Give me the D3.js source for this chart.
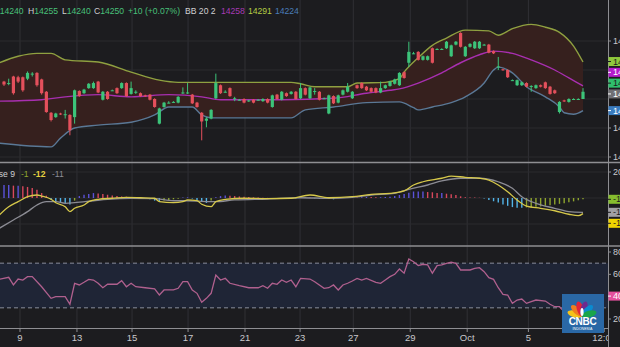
<!DOCTYPE html>
<html><head><meta charset="utf-8">
<script src="https://cdn.jsdelivr.net/npm/d3@7"></script>
<style>
html,body{margin:0;padding:0;background:#1c1c1f;overflow:hidden}
svg{display:block;font-family:"Liberation Sans",Arial,sans-serif}
</style></head><body>
<svg id="chart" width="620" height="347"></svg>
<script>
// ---- USD/IDR candles (index 0..123) ----
const opens  = [14264,14261,14271,14270,14270,14268,14274,14276,14267,14250,14221,14215,14220,14218,14218,14215,14251,14248,14255,14255,14264,14239,14250,14252,14255,14255,14262,14247,14249,14248,14245,14246,14240,14206,14229,14235,14236,14235,14248,14248,14246,14235,14221,14210,14213,14241,14259,14250,14255,14240,14239,14240,14238,14239,14239,14237,14240,14229,14246,14239,14248,14247,14250,14241,14255,14241,14250,14250,14241,14220,14244,14235,14246,14250,14241,14259,14262,14257,14255,14255,14249,14255,14258,14261,14259,14277,14290,14303,14305,14294,14294,14310,14309,14309,14310,14299,14315,14331,14299,14312,14310,14310,14315,14315,14306,14284,14281,14280,14266,14259,14259,14262,14257,14255,14259,14263,14257,14252,14222,14238,14236,14240,14240,14240];
const highs  = [14265,14268,14272,14272,14271,14278,14277,14277,14268,14251,14222,14221,14221,14225,14219,14253,14252,14254,14262,14264,14265,14251,14251,14253,14256,14263,14263,14264,14252,14249,14246,14247,14241,14228,14236,14237,14237,14244,14256,14262,14247,14236,14222,14215,14226,14275,14260,14252,14256,14243,14240,14241,14239,14240,14240,14241,14241,14246,14247,14251,14249,14251,14251,14262,14256,14257,14255,14251,14242,14246,14245,14246,14253,14262,14251,14260,14263,14258,14256,14256,14264,14260,14265,14268,14277,14278,14319,14305,14306,14300,14300,14311,14310,14310,14320,14315,14320,14332,14313,14317,14320,14320,14316,14316,14307,14298,14282,14281,14267,14267,14264,14263,14259,14260,14260,14264,14258,14253,14237,14239,14241,14241,14241,14255];
const lows   = [14258,14259,14246,14262,14250,14266,14271,14257,14246,14221,14209,14214,14218,14213,14190,14206,14243,14247,14254,14254,14248,14238,14239,14251,14247,14254,14243,14246,14247,14243,14243,14238,14228,14205,14228,14234,14235,14234,14247,14247,14233,14228,14183,14201,14212,14240,14247,14249,14243,14237,14238,14234,14236,14234,14238,14236,14234,14228,14239,14238,14243,14246,14239,14240,14245,14240,14246,14238,14240,14219,14233,14234,14245,14249,14240,14254,14254,14251,14249,14248,14248,14254,14257,14260,14258,14268,14284,14302,14293,14293,14293,14289,14308,14308,14309,14298,14314,14311,14298,14311,14309,14309,14314,14303,14302,14280,14279,14269,14265,14258,14258,14256,14250,14254,14256,14254,14246,14247,14220,14236,14235,14239,14239,14240];
const closes = [14260,14262,14248,14264,14252,14276,14275,14259,14248,14222,14211,14220,14219,14219,14197,14252,14244,14253,14261,14262,14249,14250,14240,14252,14248,14262,14244,14255,14250,14244,14244,14239,14229,14227,14235,14235,14236,14243,14249,14249,14234,14229,14209,14213,14225,14262,14248,14250,14244,14241,14239,14235,14238,14235,14239,14240,14235,14245,14240,14250,14244,14250,14240,14255,14246,14256,14251,14239,14241,14245,14234,14245,14252,14257,14250,14255,14255,14252,14250,14249,14255,14259,14264,14267,14276,14269,14305,14303,14294,14299,14299,14290,14309,14309,14319,14314,14319,14312,14312,14316,14319,14319,14315,14304,14303,14285,14280,14270,14266,14266,14263,14257,14258,14259,14257,14255,14247,14248,14236,14237,14240,14240,14240,14250];

// ---- Bollinger Bands (20, 2) ----
const bbUpperIdx = [-1,3,7,10,13,20,27,33,37,46,61,63,66,73,75,81,84,85,88,91,94,98,103,105,108,112,115,118,121,123];
const bbUpper    = [14290,14299,14303,14303,14294,14291,14277,14266,14263,14263,14263,14261,14257,14257,14262,14263,14268,14277,14297,14314,14324,14335,14334,14328,14337,14343,14339,14332,14313,14291];
const bbMiddleIdx = [-1,8,13,20,27,35,42,46,59,70,77,82,84,88,93,97,101,104,108,112,117,120,123];
const bbMiddle    = [14237,14239,14243,14246,14243,14246,14243,14239,14239,14241,14248,14252,14254,14262,14276,14290,14301,14306,14303,14294,14280,14269,14258];
const bbLowerIdx = [-1,10,12,15,20,27,32,35,40,42,44,61,64,70,77,84,87,88,91,95,98,102,104,105,108,111,115,118,119,121,123];
const bbLower    = [14179,14174,14186,14200,14204,14208,14218,14229,14229,14218,14214,14214,14225,14229,14235,14236,14228,14225,14229,14235,14243,14262,14280,14284,14276,14257,14243,14229,14221,14219,14224];

// ---- MACD (12, 26, close, 9) ----
const macdIdx  = [-1,1,3,5,7,8,10,11,13,14,15,17,18,20,23,26,29,32,33,36,38,39,41,42,44,45,47,51,56,61,65,69,74,78,82,85,87,89,93,95,98,101,103,105,107,109,111,114,117,120,122,123];
const macdLine = [-13.1,-6.7,-2.8,1.0,2.3,1.5,-1.0,-3.6,-6.7,-10.5,-7.9,-5.4,-2.8,-1.0,-0.2,0.5,0.2,-0.2,-2.8,-3.6,-2.8,-1.5,-2.1,-4.8,-6.7,-2.8,-1.0,-0.2,-0.5,-0.2,2.3,0.2,1.0,2.8,3.6,5.4,10.0,12.5,15.2,16.9,15.9,15.2,13.8,10.0,4.8,-1.5,-6.2,-7.9,-9.8,-12.5,-13.6,-12];
const signalIdx  = [-1,2,5,7,9,11,13,15,19,22,27,32,36,39,43,45,49,56,63,69,74,78,83,86,90,93,97,101,105,108,110,113,117,120,123];
const signalLine = [-23.3,-16.9,-10.5,-5.4,-2.8,-2.8,-4.1,-3.6,-2.1,-1.0,-0.2,-0.5,-2.1,-2.1,-2.8,-2.8,-1.5,-0.8,0.2,-0.2,0.5,2.3,3.6,6.7,10.0,13.1,15.2,15.2,12.5,7.5,1.0,-4.1,-7.9,-10.5,-11];
const histogram = [10,10,9.5,9.5,9,8.5,7.7,6.4,3.8,1.8,
  -1.5,-3,-3.5,-4,-5,-2,1.5,2.5,3,3.8,3.5,
  3,2.5,2,1.5,1.2,1,0.8,0.6,0.3,
  -0.3,-1,-2,-2.5,-2,-1.5,-1,-0.5,0.3,0.5,
  -0.3,-1.5,-3,-3.8,-2,0.5,1.5,2,
  1.8,1.5,1.2,1,0.7,0.5,0.3,
  0.2,0.1,-0.2,-0.4,-0.6,-0.5,-0.4,-0.3,0.3,0.6,
  0.4,-0.3,-0.6,-0.8,-0.5,-1,
  0.3,0.5,0.6,0.5,0.4,0.6,0.8,0.7,0.5,0.6,0.8,1,
  1.5,2.3,3,4,5,
  5,5,4.6,4.4,3.8,3.8,3.3,2.8,2.3,1.3,
  0.6,0.4,0.3,0.2,-0.4,
  -1.5,-2.5,-3.5,-5,-6,-7,-7.5,
  -7.5,-7.2,-7,-6.8,-6.5,-6,-5.5,-5,-4.5,-4,-3.3,-2.6,-1.8,-1];

// ---- RSI (14) ----
const rsiIdx = [-1,1,2,3,4,5,6,8,10,11,13,14,15,16,17,18,19,20,21,22,24,25,26,27,28,30,32,33,34,36,37,38,39,40,41,42,43,44,45,46,47,48,50,52,54,55,56,57,58,59,60,61,62,63,65,66,68,69,70,71,72,73,74,75,76,77,79,80,81,82,83,84,85,86,87,88,89,90,91,92,93,94,95,96,97,99,100,101,102,103,104,105,106,107,108,109,110,111,112,113,115,116,117,118,119,120,121,122,123];
const rsiVals = [55.5,57.3,50.5,55.8,54.9,57.9,57.9,48.9,38.5,40,40,33.2,52,50.5,52.9,55.5,54.9,52,48,51.1,51.1,54.3,48.9,52,48.9,48,46.9,41.5,46,46,47.5,53.4,53.4,46,43,35,38.5,43,59.4,54.9,56.4,52,49.8,48,48,49.8,47.5,52,51.1,55,52.9,54.9,48.9,56.4,55.8,53.4,47.5,48,50.5,46,50.5,52,54,56.4,54.9,56.4,52.9,52,54.9,57.9,60,64.8,61,73.7,71.3,67.8,69,68.4,61,67.8,68.4,69.9,70.8,69.9,63.9,63.9,65.4,66,62.4,57,55.5,48,42.1,41.5,34,37,37.9,34,35.5,37,36.1,33.2,31,31,26.6,30,31,33,40.5];

// ---- axes ----
const dateTickIdx = [3.4,15.5,27.2,39.1,51.2,62.9,74.2,86.3,98.4,111.4,127.5];
const dateTickLabels = ["9","13","15","17","21","23","27","29","Oct","5","12:00"];
const priceTicks = [14160,14200,14240,14280,14320];
const macdTicks = [-20,0,20];
const rsiTicks = [20,40,60,80];
const rsiBounds = [30,70];

// ---- layout ----
const W = 620, H = 347, axisX = 608;
const svg = d3.select("#chart");
svg.append("rect").attr("width", W).attr("height", H).attr("fill", "#1c1c1f");

const x = d3.scaleLinear().domain([0, 123]).range([4, 583]);
const yPrice = d3.scaleLinear().domain([14160, 14320]).range([157, 41]);
const yMacd = d3.scaleLinear().domain([-20, 20]).range([224, 172]);
const yRsi = d3.scaleLinear().domain([20, 80]).range([319, 252]);

const defs = svg.append("defs");
function clip(id, y0, y1) {
  defs.append("clipPath").attr("id", id).append("rect")
    .attr("x", 0).attr("y", y0).attr("width", axisX).attr("height", y1 - y0);
  return "url(#" + id + ")";
}
const clipPrice = clip("cp", 0, 162), clipMacd = clip("cm", 163, 245), clipRsi = clip("cr", 247, 328), clipAxis = clip("ca", 328, 347);

// vertical grid through all panes
svg.append("g").selectAll("line").data(dateTickIdx.slice(0, -1)).join("line")
  .attr("x1", d => x(d)).attr("x2", d => x(d)).attr("y1", 0).attr("y2", 328)
  .attr("stroke", "#303035").attr("stroke-width", 1);

// horizontal grid
const hgrid = svg.append("g").attr("stroke", "#2a2a2f").attr("stroke-width", 1);
priceTicks.forEach(t => hgrid.append("line").attr("x1", 0).attr("x2", axisX).attr("y1", yPrice(t)).attr("y2", yPrice(t)));
macdTicks.forEach(t => hgrid.append("line").attr("x1", 0).attr("x2", axisX).attr("y1", yMacd(t)).attr("y2", yMacd(t)));

// ---- price pane ----
const pricePane = svg.append("g").attr("clip-path", clipPrice);
const pts = (idx, vals, ys) => idx.map((d, k) => [x(d), ys(vals[k])]);
const upperPts = pts(bbUpperIdx, bbUpper, yPrice);
const middlePts = pts(bbMiddleIdx, bbMiddle, yPrice);
const lowerPts = pts(bbLowerIdx, bbLower, yPrice);
const smooth = d3.line().curve(d3.curveMonotoneX);
const fillPath = smooth(upperPts) + "L" + smooth(lowerPts.slice().reverse()).slice(1) + "Z";
pricePane.append("path").attr("d", fillPath).attr("fill", "#36201e");
pricePane.append("path").attr("d", smooth(upperPts)).attr("fill", "none").attr("stroke", "#8fa040").attr("stroke-width", 1.4);
pricePane.append("path").attr("d", smooth(middlePts)).attr("fill", "none").attr("stroke", "#a82fb0").attr("stroke-width", 1.4);
pricePane.append("path").attr("d", smooth(lowerPts)).attr("fill", "none").attr("stroke", "#5a7896").attr("stroke-width", 1.4);

const UP = "#3cc47a", DOWN = "#e4505c";
const candles = opens.map((o, i) => ({ i, o, h: highs[i], l: lows[i], c: closes[i] }));
const cg = pricePane.append("g").selectAll("g").data(candles).join("g")
  .attr("fill", d => d.c >= d.o ? UP : DOWN).attr("stroke", d => d.c >= d.o ? UP : DOWN);
cg.append("line").attr("x1", d => x(d.i)).attr("x2", d => x(d.i))
  .attr("y1", d => yPrice(d.h)).attr("y2", d => yPrice(d.l)).attr("stroke-width", 1);
cg.append("rect").attr("stroke", "none")
  .attr("x", d => x(d.i) - 1.6).attr("width", 3.2)
  .attr("y", d => yPrice(Math.max(d.o, d.c)))
  .attr("height", d => Math.max(1, Math.abs(yPrice(d.o) - yPrice(d.c))));

// ---- MACD pane ----
const macdPane = svg.append("g").attr("clip-path", clipMacd);
const histColor = (v, k) => {
  const prev = k > 0 ? histogram[k - 1] : v;
  if (v >= 0) return v >= prev ? "#5b52d8" : "#d8485c";
  return v <= prev ? "#52b4e8" : "#8ea42e";
};
macdPane.append("g").selectAll("line").data(histogram).join("line")
  .attr("x1", (d, k) => x(k)).attr("x2", (d, k) => x(k))
  .attr("y1", yMacd(0)).attr("y2", d => yMacd(d))
  .attr("stroke", (d, k) => histColor(d, k)).attr("stroke-width", 1.4);
macdPane.append("path").attr("d", smooth(pts(signalIdx, signalLine, yMacd)))
  .attr("fill", "none").attr("stroke", "#8c8c94").attr("stroke-width", 1.3);
macdPane.append("path").attr("d", smooth(pts(macdIdx, macdLine, yMacd)))
  .attr("fill", "none").attr("stroke", "#d6c84a").attr("stroke-width", 1.3);

// ---- RSI pane ----
const rsiPane = svg.append("g").attr("clip-path", clipRsi);
rsiPane.append("rect").attr("x", 0).attr("width", axisX)
  .attr("y", yRsi(rsiBounds[1])).attr("height", yRsi(rsiBounds[0]) - yRsi(rsiBounds[1]))
  .attr("fill", "#1f2536");
rsiPane.append("g").selectAll("line").data(rsiBounds).join("line")
  .attr("x1", 0).attr("x2", axisX).attr("y1", d => yRsi(d)).attr("y2", d => yRsi(d))
  .attr("stroke", "#8a8e9c").attr("stroke-width", 1).attr("stroke-dasharray", "4,3");
rsiPane.append("path").attr("d", d3.line()(pts(rsiIdx, rsiVals, yRsi)))
  .attr("fill", "none").attr("stroke", "#b0608e").attr("stroke-width", 1.3);

// ---- pane separators and axes ----
const sep = svg.append("g").attr("stroke", "#8e8e92");
sep.append("line").attr("x1", 0).attr("x2", W).attr("y1", 162.5).attr("y2", 162.5).attr("stroke-width", 1.5);
sep.append("line").attr("x1", 0).attr("x2", W).attr("y1", 246).attr("y2", 246).attr("stroke-width", 1.5);
sep.append("line").attr("x1", 0).attr("x2", axisX).attr("y1", 328.5).attr("y2", 328.5).attr("stroke-width", 1);
sep.append("line").attr("x1", axisX + 0.5).attr("x2", axisX + 0.5).attr("y1", 0).attr("y2", H).attr("stroke-width", 1);

// date axis
const dateAxis = svg.append("g").attr("clip-path", clipAxis);
dateAxis.selectAll("line").data(dateTickIdx).join("line")
  .attr("x1", d => x(d)).attr("x2", d => x(d)).attr("y1", 329).attr("y2", 332).attr("stroke", "#8e8e92");
dateAxis.selectAll("text").data(dateTickIdx).join("text")
  .attr("x", d => x(d)).attr("y", 341).attr("text-anchor", "middle")
  .attr("font-size", 9.5).attr("fill", "#c8c8cc").text((d, k) => dateTickLabels[k]);

// value tags on the right axis, stacked so they do not overlap
function stackTags(tags, scale, gap, dir) {
  const ys = tags.map(t => scale(t.value));
  if (dir === "up") { for (let k = ys.length - 2; k >= 0; k--) ys[k] = Math.min(ys[k], ys[k + 1] - gap); }
  else { for (let k = 1; k < ys.length; k++) ys[k] = Math.max(ys[k], ys[k - 1] + gap); }
  return ys;
}
const lastI = closes.length - 1;
const priceTags = [
  { value: bbUpper[bbUpper.length - 1], color: "#8fc83c", text: "#1c1c1f" },
  { value: bbMiddle[bbMiddle.length - 1], color: "#b41ccc", text: "#ffffff" },
  { value: closes[lastI], color: "#2fbf6c", text: "#1c1c1f" },
  { value: 14247, color: "#707074", text: "#ffffff" },
  { value: bbLower[bbLower.length - 1], color: "#3a7cc0", text: "#ffffff" }
];
const macdTags = [
  { value: histogram[lastI], color: "#86bd2e", text: "#1c1c1f" },
  { value: signalLine[signalLine.length - 1], color: "#a0a0a4", text: "#1c1c1f" },
  { value: macdLine[macdLine.length - 1], color: "#f0d400", text: "#1c1c1f" }
];
const rsiTags = [{ value: rsiVals[rsiVals.length - 1], color: "#e4509c", text: "#ffffff" }];
const priceTagY = stackTags(priceTags, yPrice, 10.8, "up");
const macdTagY = stackTags(macdTags, yMacd, 11, "down");
const rsiTagY = stackTags(rsiTags, yRsi, 11, "down");

// right axis ticks (a tick hidden under a value tag is skipped)
function rightTicks(values, scale, tagYs) {
  const g = svg.append("g");
  values.filter(v => tagYs.every(ty => Math.abs(scale(v) - ty) > 6.5)).forEach(v => {
    g.append("line").attr("x1", axisX).attr("x2", axisX + 3).attr("y1", scale(v)).attr("y2", scale(v)).attr("stroke", "#8e8e92");
    g.append("text").attr("x", axisX + 5).attr("y", scale(v) + 3).attr("font-size", 9)
      .attr("fill", "#c8c8cc").text(String(v));
  });
}
rightTicks(priceTicks, yPrice, priceTagY);
rightTicks([20], yMacd, macdTagY);
rightTicks(rsiTicks, yRsi, rsiTagY);

function drawTags(tags, ys, fmt) {
  tags.forEach((t, k) => {
    svg.append("rect").attr("x", axisX + 0.5).attr("y", ys[k] - 4.5).attr("width", 20).attr("height", 9).attr("fill", t.color);
    svg.append("line").attr("x1", axisX).attr("x2", axisX + 3).attr("y1", ys[k]).attr("y2", ys[k]).attr("stroke", t.text);
    svg.append("text").attr("x", axisX + 5).attr("y", ys[k] + 3).attr("font-size", 9).attr("fill", t.text).text(fmt(t.value));
  });
}
drawTags(priceTags, priceTagY, d => String(d));
drawTags(macdTags, macdTagY, d => String(d));
drawTags(rsiTags, rsiTagY, d => d.toFixed(2));

// ---- legends ----
const green = "#48c07a", light = "#cfcfd2";
const legend = svg.append("text").attr("y", 13.5).attr("font-size", 8.6);
[["O", light, -7], [String(opens[lastI]), green], ["H", light, 28], [String(highs[lastI]), green],
 ["L", light, 62], [String(lows[lastI]), green], ["C", light, 94], [String(closes[lastI]), green],
 ["+10 (+0.07%)", green, 128], ["BB 20 2", light, 185],
 [String(bbMiddle[bbMiddle.length - 1]), "#a63ab4", 221], [String(bbUpper[bbUpper.length - 1]), "#b4cc44", 248],
 [String(bbLower[bbLower.length - 1]), "#4a7cb8", 275]]
 .forEach(([t, c, px]) => { const s = legend.append("tspan").attr("fill", c).text(t); if (px !== undefined) s.attr("x", px); });

const macdLegend = svg.append("g").attr("font-size", 8.6);
macdLegend.append("text").attr("x", 15).attr("y", 177).attr("text-anchor", "end").attr("fill", light).text("MACD 12 26 Close 9");
macdLegend.append("text").attr("x", 21).attr("y", 177).attr("fill", "#8ea42e").text(String(histogram[lastI]));
macdLegend.append("text").attr("x", 33).attr("y", 177).attr("fill", "#e2d040").attr("font-weight", "bold").text(String(macdLine[macdLine.length - 1]));
macdLegend.append("text").attr("x", 52).attr("y", 177).attr("fill", "#8c8c94").text(String(signalLine[signalLine.length - 1]));

// ---- broadcaster badge ----
const logo = svg.append("g").attr("transform", "translate(562,294)");
logo.append("rect").attr("width", 42).attr("height", 39).attr("fill", "#2a68a6");
const plumes = ["#f4c21a", "#ee7d1f", "#e0253a", "#6d2a8e", "#0a8bd0", "#1aa54b"];
plumes.forEach((c, k) => {
  logo.append("ellipse").attr("cx", 0).attr("cy", -7.5).attr("rx", 3.3).attr("ry", 7.5).attr("fill", c)
    .attr("transform", `translate(20,22) rotate(${-75 + k * 30})`);
});
logo.append("ellipse").attr("cx", 20).attr("cy", 18).attr("rx", 1.6).attr("ry", 4).attr("fill", "#ffffff");
logo.append("text").attr("x", 20.5).attr("y", 31).attr("text-anchor", "middle").attr("font-size", 10)
  .attr("font-weight", "bold").attr("fill", "#ffffff").attr("letter-spacing", -0.3).text("CNBC");
logo.append("text").attr("x", 20.5).attr("y", 35.5).attr("text-anchor", "middle").attr("font-size", 3.6)
  .attr("fill", "#ffffff").text("INDONESIA");
</script>
</body></html>
